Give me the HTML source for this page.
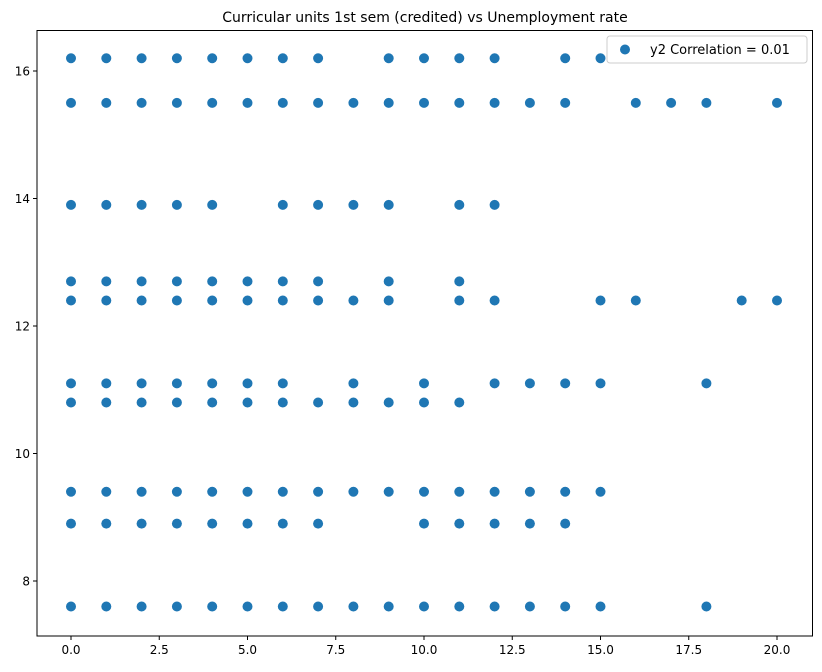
<!DOCTYPE html>
<html><head><meta charset="utf-8"><style>
body{margin:0;background:#fff;font-family:"DejaVu Sans","Liberation Sans",sans-serif;}
svg text{font-family:"DejaVu Sans","Liberation Sans",sans-serif;}
</style></head><body>
<svg id="chart" width="822" height="668" xmlns="http://www.w3.org/2000/svg">
<text x="425" y="22" font-size="14" text-anchor="middle">Curricular units 1st sem (credited) vs Unemployment rate</text>
<g id="marks"></g>
<g id="axes"></g>
<rect x="37" y="30.5" width="775.5" height="605.5" fill="none" stroke="#000" stroke-width="1"/>
<g>
<rect x="607" y="36" width="200" height="27" rx="3" fill="#fff" fill-opacity="0.8" stroke="#ccc"/>
<circle cx="625" cy="49.5" r="5" fill="#1f77b4"/>
<text x="650" y="54" font-size="13">y2 Correlation = 0.01</text>
</g>
</svg>
<script>
const rates = [16.2, 15.5, 13.9, 12.7, 12.4, 11.1, 10.8, 9.4, 8.9, 7.6];
const credited = [
 [0,1,2,3,4,5,6,7,9,10,11,12,14,15],
 [0,1,2,3,4,5,6,7,8,9,10,11,12,13,14,16,17,18,20],
 [0,1,2,3,4,6,7,8,9,11,12],
 [0,1,2,3,4,5,6,7,9,11],
 [0,1,2,3,4,5,6,7,8,9,11,12,15,16,19,20],
 [0,1,2,3,4,5,6,8,10,12,13,14,15,18],
 [0,1,2,3,4,5,6,7,8,9,10,11],
 [0,1,2,3,4,5,6,7,8,9,10,11,12,13,14,15],
 [0,1,2,3,4,5,6,7,10,11,12,13,14],
 [0,1,2,3,4,5,6,7,8,9,10,11,12,13,14,15,18]
];
const xTicks = [0,2.5,5,7.5,10,12.5,15,17.5,20];
const xTickLabels = ["0.0","2.5","5.0","7.5","10.0","12.5","15.0","17.5","20.0"];
const yTicks = [8,10,12,14,16];
const yTickLabels = ["8","10","12","14","16"];
const NS="http://www.w3.org/2000/svg";
const xs = v => 71 + v*35.3;
const ys = v => 581 - (v-8)*63.75;
const marks=document.getElementById('marks');
rates.forEach((r,i)=>{
 credited[i].forEach(c=>{
  const el=document.createElementNS(NS,'circle');
  el.setAttribute('cx',xs(c));el.setAttribute('cy',ys(r));el.setAttribute('r',5);
  el.setAttribute('fill','#1f77b4');
  
  
  marks.appendChild(el);
 });
});
const axes=document.getElementById('axes');
xTicks.forEach((t,i)=>{
 const l=document.createElementNS(NS,'line');
 l.setAttribute('x1',xs(t));l.setAttribute('x2',xs(t));l.setAttribute('y1',636);l.setAttribute('y2',640);l.setAttribute('stroke','#000');
 
 
 axes.appendChild(l);
 const tx=document.createElementNS(NS,'text');
 tx.setAttribute('x',xs(t));tx.setAttribute('y',654);tx.setAttribute('font-size','12');tx.setAttribute('text-anchor','middle');
 tx.textContent=xTickLabels[i];
 
 
 axes.appendChild(tx);
});
yTicks.forEach((t,i)=>{
 const l=document.createElementNS(NS,'line');
 l.setAttribute('x1',33);l.setAttribute('x2',37);l.setAttribute('y1',ys(t));l.setAttribute('y2',ys(t));l.setAttribute('stroke','#000');
 
 
 axes.appendChild(l);
 const tx=document.createElementNS(NS,'text');
 tx.setAttribute('x',30);tx.setAttribute('y',ys(t)+4.5);tx.setAttribute('font-size','12');tx.setAttribute('text-anchor','end');
 tx.textContent=yTickLabels[i];
 
 
 axes.appendChild(tx);
});
</script>
</body></html>
